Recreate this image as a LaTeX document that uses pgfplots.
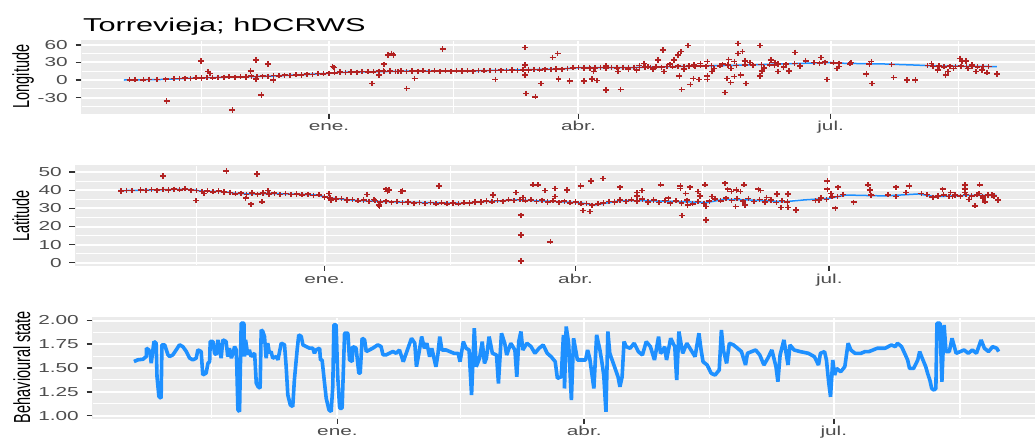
\documentclass[border=0pt]{standalone}
\usepackage{graphicx}
\usepackage{fontspec}
\setmainfont{Liberation Sans}[FakeStretch=1.6]
\newfontfamily\plainfont{Liberation Sans}
\newfontfamily\titlefont{Liberation Sans}[FakeStretch=1.65]
\usepackage{pgfplots}
\pgfplotsset{compat=1.18}
\definecolor{panelbg}{HTML}{EBEBEB}
\definecolor{tickgray}{HTML}{4D4D4D}
\definecolor{tickdark}{HTML}{333333}
\definecolor{firebrick}{HTML}{B22222}
\definecolor{dodger}{HTML}{1E90FF}
\pgfplotsset{
  ggpanel/.style={
    scale only axis,
    xmin=-89.5, xmax=258,
    axis background/.style={fill=panelbg},
    axis line style={draw=panelbg, line width=0.2pt},
    tick pos=left,
    tick align=outside,
    major tick length=5.5pt,
    minor tick length=0pt,
    major tick style={draw=tickdark, line width=1.6pt},
    grid=both,
    major grid style={white, line width=2pt},
    minor grid style={white, line width=1.1pt},
    xtick={0,90,181},
    xticklabels={ene.,abr.,jul.},
    minor xtick={-46,45,135.5,227},
    ticklabel style={font=\fontsize{13}{13}\selectfont, text=tickgray},
    xticklabel style={text height=9.5pt, text depth=0pt, inner sep=0pt, yshift=-2.5pt},
    yticklabel style={inner sep=0pt, xshift=-7.5pt},
  },
  redpts/.style={only marks, mark=+, color=firebrick, mark size=2.6pt, mark options={line width=1.6pt, xscale=1.15}},
  blueline/.style={color=dodger, line width=1.5pt, no marks},
}
\begin{document}
\begin{tikzpicture}
% ---------------- Panel 1: Longitude ----------------
\begin{axis}[ggpanel, at={(81pt,-113pt)}, anchor=south west, width=963pt, height=73pt,
  ymin=-56.5, ymax=68.5, ytick={-30,0,30,60}, yticklabels={-30,0,30,60}, minor ytick={-45,-15,15,45}]
\addplot[blueline] coordinates {(-74,0) (-61,0.8) (-47,3.5) (-35,5) (-22,6.5) (-10,9) (0,11.4) (3,13) (26,15) (50,15.4) (84,18.9) (90,21) (107,21) (124,22.9) (151,25.7) (171,28.6) (181,30) (186,28.6) (200,27.5) (212,25.5) (219,24) (241,23)};
\addplot[redpts] coordinates {
(-72,0.2) (-70,0.5) (-67,0.3) (-65,1.2) (-62,0.6) (-59,1.5) (-56,2.4) (-54,2.5) (-52,3.0) (-50,2.8) (-48,3.8) (-46,3.5) (-44,4.2) (-42,3.9) (-40,4.5) (-38,4.8) (-36,5.6) (-34,4.8) (-32,5.6) (-30,5.3) (-28,6.4) (-26,5.8) (-24,6.6) (-22,6.0) (-20,7.5) (-18,7.2) (-16,8.1) (-14,7.6) (-12,8.9) (-10,8.6) (-8,9.9) (-6,9.6) (-4,10.8) (-2,10.5) (0,11.6) (2,12.4) (4,13.8) (6,12.9) (8,13.6) (10,13.2) (12,14.4) (14,13.9) (16,14.2) (18,15.0) (20,14.5) (22,15.3) (24,14.6) (26,15.4) (28,14.8) (30,15.5) (32,15.0) (34,15.6) (36,14.9) (38,15.7) (40,15.2) (42,15.8) (44,15.1) (46,15.9) (48,15.3) (50,15.8) (52,15.2) (54,16.3) (56,15.7) (58,16.5) (60,16.0) (62,16.9) (64,16.2) (66,17.3) (68,16.6) (70,17.6) (72,17.0) (74,18.1) (76,17.4) (78,18.5) (80,17.9) (82,18.9) (84,18.4) (86,20.0) (88,20.8) (90,21.3) (92,20.5) (94,21.4) (96,20.6) (98,21.5) (100,20.7) (102,21.6) (104,20.8) (106,21.5) (108,20.9) (110,21.7) (112,21.1) (114,22.3) (116,21.6) (118,22.7) (120,22.0) (122,23.2) (124,22.5) (126,23.5) (128,22.8) (130,24.0) (132,23.2) (134,24.3) (136,23.6) (138,24.8) (141,24.4) (144,25.6) (147,25.0) (150,26.0) (153,25.4) (156,26.6) (159,26.2) (162,27.5) (165,27.0) (168,28.4) (175,29.8) (177,28.9) (179,30.6) (182,29.6) (184,28.8) (188,27.8) (195,27.2) (203,26.3) (216,24.5) (218,23.4) (220,23.9) (222,22.6) (224,23.5) (226,22.8) (228,23.6) (230,22.9) (232,23.7) (234,22.7) (236,23.4) (238,22.8)
(-58.6,-36) (-46.2,32.6) (-43.6,14.3) (-42.9,11.4) (-34.9,-51.4) (-28.3,15.4) (-26.3,34.3) (-26.3,1.7) (-24.4,-25.7) (-22.1,27.4) (-20.1,0) (1.3,22.9) (1.9,21.1) (15.6,-5.7) (18,8.6) (19.9,26.9) (21.2,42.9) (22.6,45.7) (23.2,42.9) (19.6,15.4) (24.8,14.3) (28.0,-14.3) (41.0,53.1) (30.9,2.8) (60.0,1.1) (70.8,55.4) (70.8,25.7) (70.8,8.5) (71.1,-22.9) (74.5,-28.6) (76.4,-5.7) (80.7,38.8) (82.5,45.7) (82.8,1.7) (86.8,-1.7) (91.9,-1.7) (94.8,1.7) (96.7,-0.6) (99.9,-17.1) (105.2,-16.0) (95.5,14.3) (94.1,20) (104.2,14.3) (111.0,17.1) (113.7,28.6) (115.1,22.9) (118.8,34.3) (120.5,51.4) (120.9,14.3) (124.5,34.3) (126.0,42.9) (127.0,48.6) (129.6,58.8) (126.4,6.8) (127.2,-16.0) (130.4,-7.5) (131.5,2.8) (133.6,1.1) (131.8,25.7) (136.5,31.4) (136.5,6.8) (136.5,1.1) (138.3,14.3) (142.8,-21.2) (143.7,2.8) (144.9,-4.6) (146.3,5.7) (147.5,62.8) (147.5,45.7) (149.2,48.6) (148.5,8.5) (150.4,-5.7) (144.2,35.4) (146.3,31.4) (150.0,32.6) (155.5,58.8) (155.5,6.8) (156.2,15.4) (159.4,34.3) (162.0,14.3) (160.8,25.7) (165.9,15.4) (168.1,47.4) (177.5,38.3) (179.7,1.1) (183.3,20) (184.1,22.9) (188.4,29.7) (193.9,10.3) (195.7,31.4) (196.0,-5.7) (203.7,4.0) (208.5,0) (211.6,0) (217.4,28.6) (219.6,17.1) (222.5,8.5) (223.3,14.3) (225.4,20) (227.6,37.1) (228.3,31.4) (229.8,32.6) (230.5,20) (232.0,25.7) (233.4,14.3) (235.6,17.1) (237.5,12.5) (241.1,10.3)
(100,24) (108,18) (112,25) (117,19) (123,27) (128,19) (134,28) (139,20) (142,27) (145,20) (152,30) (157,21) (161,30) (164,22) (170,24) (172,33)
};
\end{axis}
% ---------------- Panel 2: Latitude ----------------
\begin{axis}[ggpanel, at={(75pt,-265.4pt)}, anchor=south west, width=969pt, height=100.4pt,
  ymin=-1.5, ymax=54, ytick={0,10,20,30,40,50}, yticklabels={0,10,20,30,40,50}, minor ytick={5,15,25,35,45}]
\addplot[blueline] coordinates {(-74,39.8) (-50,40.6) (-47,40.2) (-44,39.6) (-36,39.3) (-32,38.3) (-26,38.0) (-20,38.3) (-9,37.8) (-3,37.4) (0,36.5) (3,35.6) (9,34.7) (15,34.1) (27,33.5) (50,32.8) (56,33.7) (69,34.7) (85,33.7) (91,33.2) (97,31.9) (106,34.3) (114,34.3) (129,33.7) (137,33.2) (143,35.0) (152,34.7) (165,33.7) (172,34.7) (181,35.6) (187,37.4) (201,36.9) (213,38.0) (219,36.5) (230,37.2) (241,37.2)};
\addplot[redpts] coordinates {
(-73,39.6) (-71,40.0) (-69,39.9) (-66,40.2) (-64,40.0) (-62,40.4) (-60,40.1) (-58,40.5) (-56,40.2) (-54,40.6) (-52,40.3) (-50,40.8) (-48,40.1) (-46,39.8) (-44,39.4) (-42,39.7) (-40,39.2) (-38,39.6) (-36,39.1) (-34,38.9) (-32,38.1) (-30,38.4) (-28,37.8) (-26,38.2) (-24,37.9) (-22,38.5) (-20,38.0) (-18,38.4) (-16,37.7) (-14,38.2) (-12,37.6) (-10,38.0) (-8,37.5) (-6,37.9) (-4,37.2) (-2,37.5) (0,36.3) (2,35.9) (4,35.2) (6,35.4) (8,34.6) (10,35.0) (12,34.2) (14,34.6) (16,33.9) (18,34.3) (20,33.6) (22,34.0) (24,33.4) (26,33.8) (28,33.2) (30,33.6) (32,32.9) (34,33.3) (36,32.7) (38,33.2) (40,32.6) (42,33.1) (44,32.5) (46,33.0) (48,32.6) (50,33.1) (52,33.0) (54,33.6) (56,33.5) (58,34.1) (60,33.7) (62,34.4) (64,34.0) (66,34.8) (68,34.3) (70,35.0) (72,34.2) (74,34.8) (76,33.9) (78,34.5) (80,33.6) (82,34.2) (84,33.4) (86,34.0) (88,33.1) (90,33.6) (92,32.6) (94,32.8) (96,31.8) (98,32.6) (100,33.0) (102,33.9) (104,33.6) (106,34.6) (108,33.9) (110,34.8) (112,34.0) (114,35.2) (116,33.6) (118,34.6) (120,33.2) (122,34.4) (124,32.9) (126,34.2) (128,33.0) (130,34.5) (132,32.6) (134,33.8) (136,32.8) (138,34.0) (140,35.3) (142,34.2) (144,35.6) (146,34.3) (148,35.5) (150,34.0) (152,35.4) (154,33.8) (156,35.0) (158,33.6) (160,34.6) (162,33.2) (164,34.4) (166,33.5) (176,34.3) (178,35.8) (180,35.0) (182,36.4) (184,36.6) (186,37.8) (196,37.3) (202,37.5) (214,38.3) (216,37.6) (218,36.2) (220,36.9) (222,37.5) (224,36.6) (226,37.4) (228,36.8) (230,37.6) (232,36.9) (234,37.5) (236,36.8) (238,37.4) (240,36.9)
(-57.9,47.9) (-46.2,34.3) (-43.2,38.3) (-35.2,50.7) (-28.3,35.6) (-26.3,32.3) (-26.1,38.7) (-24.3,49.0) (-22.4,33.7) (-20.2,39.8) (1.6,38.3) (2.2,34.7) (15.3,37.8) (17.7,35.0) (19.5,31.9) (19.7,31.0) (22.1,40.6) (22.5,39.3) (23.1,40.2) (27.3,39.3)
(28.0,39.6) (41.1,42.4) (60.4,37.4) (68.6,38.7) (70.4,26.2) (70.4,15.3) (70.4,0.9) (71.2,36.1) (74.7,43.0) (76.6,43.0) (79.1,39.8) (81.0,11.6) (82.7,41.1) (82.7,36.5) (87.0,40.2) (91.8,42.4) (92.6,28.8) (95.2,28.2) (95.5,45.2) (99.8,46.6) (105.9,41.7) (112.1,38.7) (112.1,36.9) (113.9,39.8) (120.5,43.0) (123.3,35.6) (127.6,42.4) (127.6,41.1) (128.1,26.0) (129.5,38.3) (131.0,41.7) (130.2,31.9) (133.9,39.3) (134.6,36.9) (136.5,43.0) (136.8,23.6) (136.8,31.0) (139.0,36.5) (143.7,43.9) (144.5,40.6) (145.9,39.3) (147.7,40.2) (149.1,39.3) (150.5,43.0) (150.8,31.9) (147.4,31.0) (155.6,40.6) (156.4,39.8) (158.5,36.1) (162.2,38.0) (163.6,30.6) (166.2,30.6) (166.2,38.0) (169.0,29.1) (177.4,34.7) (180.3,45.2) (180.3,40.6) (181.7,38.3) (183.2,30.1) (184.2,41.7) (189.7,33.4) (194.8,43.0) (195.5,40.2) (196.2,37.1) (204.9,41.7) (204.9,36.5) (208.6,38.7) (209.7,42.4) (218.4,36.1) (221.6,40.6) (224.5,38.7) (225.2,36.5) (229.6,43.0) (229.6,40.6) (229.6,38.7) (231.0,35.0) (233.2,31.5) (234.9,43.0) (234.7,38.3) (236.1,35.6) (236.8,33.7) (239.3,37.4) (241.6,34.7)
};
\end{axis}
% ---------------- Panel 3: Behavioural state ----------------
\begin{axis}[ggpanel, at={(92pt,-418pt)}, anchor=south west, width=953pt, height=101pt,
  ymin=0.974, ymax=2.037, ytick={1,1.25,1.5,1.75,2}, yticklabels={1.00,1.25,1.50,1.75,2.00}, minor ytick={1.125,1.375,1.625,1.875}]
\addplot[color=dodger, line width=3.6pt, line join=bevel, no marks] coordinates {
(-74.2,1.568) (-72.8,1.586) (-70.9,1.593) (-69.7,1.621) (-69.7,1.709) (-68.8,1.691) (-68.3,1.656) (-67.9,1.551) (-67.3,1.691) (-66.9,1.779) (-66.1,1.761) (-65.8,1.411) (-65.1,1.200) (-64.3,1.182) (-64.0,1.744) (-63.0,1.744) (-62.4,1.691) (-61.8,1.639) (-61.2,1.621) (-60.0,1.639) (-58.8,1.691) (-57.6,1.744) (-56.4,1.726) (-55.1,1.674) (-53.9,1.604) (-52.7,1.586) (-51.5,1.604) (-50.9,1.691) (-49.7,1.674) (-49.1,1.428) (-47.9,1.446) (-47.2,1.551) (-46.6,1.568) (-46.4,1.779) (-45.4,1.779) (-44.8,1.656) (-44.2,1.639) (-43.6,1.796) (-43.0,1.691) (-42.4,1.604) (-41.8,1.796) (-40.6,1.779) (-40.0,1.621) (-39.4,1.709) (-38.7,1.604) (-38.1,1.656) (-37.5,1.726) (-36.9,1.691) (-36.7,1.516) (-36.3,1.060) (-35.7,1.042) (-35.1,1.972) (-34.1,1.972) (-33.9,1.621) (-33.5,1.796) (-32.7,1.639) (-32.1,1.691) (-31.5,1.621) (-30.2,1.656) (-29.6,1.340) (-29.0,1.305) (-28.2,1.288) (-27.8,1.902) (-27.2,1.884) (-26.6,1.832) (-26.0,1.604) (-25.4,1.761) (-24.8,1.656) (-24.2,1.674) (-23.6,1.604) (-22.3,1.621) (-21.7,1.586) (-20.5,1.761) (-19.3,1.744) (-18.7,1.516) (-18.1,1.218) (-17.2,1.112) (-16.3,1.095) (-15.7,1.375) (-14.7,1.691) (-14.1,1.849) (-13.2,1.832) (-12.6,1.744) (-11.4,1.726) (-10.2,1.709) (-9.0,1.709) (-8.4,1.656) (-7.8,1.691) (-6.5,1.709) (-6.2,1.586) (-5.6,1.586) (-4.7,1.340) (-4.1,1.182) (-3.1,1.060) (-2.3,1.042) (-1.7,1.305) (-1.3,1.954) (-0.5,1.954) (0.1,1.411) (0.8,1.077) (1.7,1.077) (2.6,1.867) (3.8,1.867) (4.4,1.586) (5.4,1.568) (5.6,1.726) (6.8,1.709) (7.8,1.446) (8.3,1.446) (9.0,1.814) (9.9,1.796) (10.5,1.674) (11.7,1.691) (12.9,1.709) (14.7,1.744) (15.9,1.726) (16.6,1.639) (17.8,1.639) (19.0,1.656) (20.2,1.674) (21.4,1.656)
(22.6,1.690) (24.0,1.567) (25.5,1.690) (27.0,1.813) (28.2,1.761) (28.8,1.514) (29.7,1.655) (30.7,1.831) (31.7,1.708) (32.6,1.761) (33.6,1.620) (34.4,1.708) (35.9,1.514) (36.6,1.637) (37.3,1.831) (38.1,1.690) (39.6,1.690) (41.0,1.673) (42.5,1.655) (44.0,1.655) (44.7,1.567) (45.9,1.778) (46.9,1.708) (48.0,1.690) (48.9,1.215) (49.9,1.919) (50.6,1.514) (51.8,1.602) (52.8,1.778) (53.6,1.549) (54.3,1.602) (55.3,1.831) (56.5,1.655) (58.0,1.637) (58.7,1.338) (59.8,1.866) (61.0,1.761) (61.7,1.637) (63.2,1.761) (64.7,1.690) (65.4,1.408) (66.1,1.778) (66.9,1.884) (67.6,1.690) (69.1,1.761) (70.6,1.725) (72.0,1.655) (73.5,1.708) (75.0,1.743) (76.5,1.655) (77.9,1.620) (79.4,1.567) (80.2,1.391) (81.6,1.408) (82.4,1.849) (82.8,1.285) (83.4,1.937) (84.3,1.761) (85.3,1.162) (86.1,1.813) (87.5,1.585) (89.0,1.585) (90.5,1.585) (91.2,1.690) (92.0,1.602) (93.5,1.285) (94.5,1.849) (95.7,1.690) (96.4,1.567) (97.1,1.426) (97.9,1.039) (98.6,1.884) (99.3,1.655) (100.8,1.532) (102.3,1.408) (103.0,1.303) (103.8,1.408) (104.5,1.778) (105.3,1.725) (106.7,1.708) (108.2,1.761) (109.7,1.673) (111.2,1.637) (112.6,1.778) (114.1,1.725) (115.6,1.585) (117.1,1.831) (117.8,1.655) (118.5,1.673) (119.3,1.725) (120.0,1.585) (121.5,1.813) (123.0,1.725) (123.7,1.373) (124.5,1.884) (125.9,1.655) (127.4,1.761) (128.9,1.690) (130.4,1.620) (131.8,1.866) (132.6,1.690) (133.3,1.567) (134.8,1.532) (136.3,1.444) (137.7,1.426) (139.2,1.479) (140.0,1.901) (140.7,1.690) (141.9,1.549) (142.9,1.761) (144.4,1.743) (145.9,1.708) (147.3,1.673) (148.8,1.532) (149.5,1.655) (151.0,1.673) (152.5,1.690) (154.0,1.637) (155.5,1.532) (156.9,1.602) (158.4,1.690) (159.9,1.514) (160.6,1.356) (161.4,1.637) (162.8,1.796) (164.3,1.532) (165.0,1.743) (166.5,1.690) (168.7,1.673) (171.7,1.655) (173.9,1.620) (175.4,1.532) (176.1,1.655) (177.6,1.673) (178.3,1.585) (179.1,1.356) (179.8,1.197) (180.6,1.585) (181.3,1.426) (182.0,1.496) (183.5,1.461) (185.0,1.514) (186.2,1.761) (187.2,1.690) (188.7,1.655) (190.9,1.655) (192.4,1.673) (193.8,1.673) (195.3,1.690) (196.8,1.708) (199.7,1.708) (202.0,1.743) (203.4,1.725) (204.2,1.761) (205.7,1.725) (207.1,1.637) (207.9,1.585) (208.6,1.496) (210.1,1.496) (211.6,1.585) (212.3,1.673) (213.0,1.620) (214.5,1.514) (215.2,1.444) (216.0,1.373) (216.7,1.285) (217.5,1.268) (218.2,1.285) (218.6,1.972) (219.7,1.972) (220.4,1.356) (221.2,1.954) (221.9,1.673) (223.1,1.673) (224.1,1.813) (225.6,1.655) (227.1,1.673) (228.5,1.690) (230.0,1.655) (231.5,1.690) (233.0,1.655) (234.7,1.796) (235.9,1.708) (237.4,1.673) (238.9,1.725) (240.4,1.708) (241.1,1.673)
};
\end{axis}
% ---------------- Titles and axis titles ----------------
\node[anchor=base west, inner sep=0pt] at (83pt,-31pt) {\titlefont\fontsize{18.6}{18.6}\selectfont Torrevieja; hDCRWS};
\node[rotate=90, anchor=base, inner sep=0pt] at (29pt,-76.5pt) {\scalebox{1}[1.6]{\plainfont\fontsize{14.5}{14.5}\selectfont Longitude}};
\node[rotate=90, anchor=base, inner sep=0pt] at (29pt,-216pt) {\scalebox{1}[1.6]{\plainfont\fontsize{14.5}{14.5}\selectfont Latitude}};
\node[rotate=90, anchor=base, inner sep=0pt] at (30pt,-367pt) {\scalebox{1}[1.6]{\plainfont\fontsize{14.5}{14.5}\selectfont Behavioural state}};
\pgfresetboundingbox
\path[use as bounding box] (0pt,0pt) rectangle (1035pt,-439pt);
\end{tikzpicture}
\end{document}
